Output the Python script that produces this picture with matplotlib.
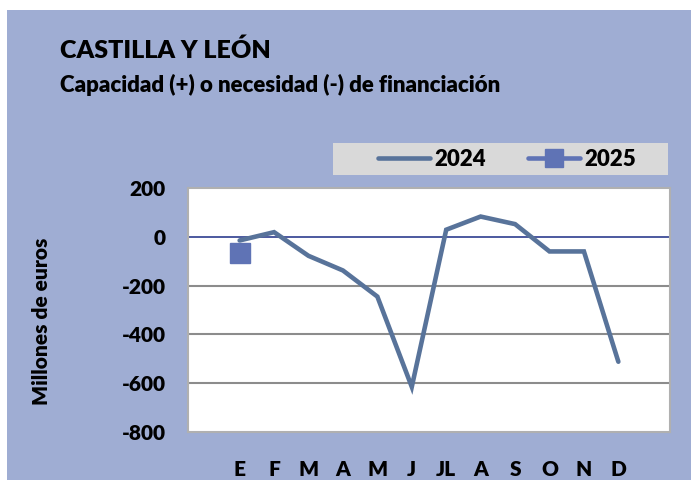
import matplotlib.pyplot as plt
from matplotlib.patches import Rectangle
from matplotlib.lines import Line2D

months = ['E', 'F', 'M', 'A', 'M', 'J', 'JL', 'A', 'S', 'O', 'N', 'D']
values_2024 = [-15, 19, -78, -138, -245, -615, 29, 83, 52, -60, -60, -512]
values_2025 = [-67]

W, H = 691, 480
fig = plt.figure(figsize=(W / 100, H / 100), dpi=100, facecolor='white')
plt.rcParams['font.family'] = ['Lato', 'DejaVu Sans']
plt.rcParams['font.weight'] = 'bold'
plt.rcParams['axes.unicode_minus'] = False

# coloured panel (small white margin top/left)
fig.patches.append(Rectangle((7 / W, 0), 1, 1 - 10 / H, transform=fig.transFigure,
                             facecolor='#9FADD3', edgecolor='none', zorder=-2))

ax = fig.add_axes([188 / W, 1 - 432 / H, (670 - 188) / W, (432 - 188) / H])
ax.set_facecolor('white')
x = list(range(len(months)))
ax.plot(x, values_2024, color='#58739A', linewidth=3.3, solid_capstyle='round',
        solid_joinstyle='miter', zorder=3)
ax.plot(x[:len(values_2025)], values_2025, color='#5F73B5', marker='s', markersize=14,
        linestyle='-', linewidth=3.3, zorder=4)

ax.set_xlim(-1.5, 12.5)
ax.set_ylim(-800, 200)
ax.set_yticks(range(-800, 201, 200))
ax.set_xticks(x)
ax.set_xticklabels(months)
for g in [-600, -400, -200]:
    ax.axhline(g, color='#8C8C8C', linewidth=1.5, zorder=1)
ax.axhline(0, color='#2E3D8F', linewidth=1.2, zorder=2)
for s in ax.spines.values():
    s.set_color('#B0B0B0')
    s.set_linewidth(1.5)
ax.tick_params(axis='both', length=0, labelsize=15)
ax.tick_params(axis='y', pad=16)
ax.tick_params(axis='x', pad=20)
for lab in ax.get_xticklabels() + ax.get_yticklabels():
    lab.set_fontweight('heavy')

ax.set_ylabel('Millones de euros', fontsize=15, fontweight='heavy')
ax.yaxis.set_label_coords(-0.284, 0.455)

# Title and subtitle
fig.text(60 / W, 1 - 50 / H, 'CASTILLA Y LEÓN', fontsize=18, fontweight='heavy',
         va='center', ha='left')
fig.text(60 / W, 1 - 85 / H, 'Capacidad (+) o necesidad (-) de financiación',
         fontsize=16, fontweight='heavy', va='center', ha='left')

# legend box
fig.patches.append(Rectangle((333 / W, 1 - 175 / H), (668 - 333) / W, 32 / H,
                             transform=fig.transFigure, facecolor='#D9D9D9',
                             edgecolor='none', zorder=-1))
handles = [Line2D([], [], color='#58739A', linewidth=3.3, solid_capstyle='round'),
           Line2D([], [], color='#5F73B5', linewidth=3.3, marker='s', markersize=13,
                  solid_capstyle='round')]
fig.legend(handles, ['2024', '2025'], loc='center', bbox_to_anchor=(507 / W, 1 - 159 / H),
           ncol=2, frameon=False, prop={'weight': 'heavy', 'size': 16},
           handlelength=2.35, columnspacing=1.9, handletextpad=0.2)

plt.savefig('out.png', dpi=100)
